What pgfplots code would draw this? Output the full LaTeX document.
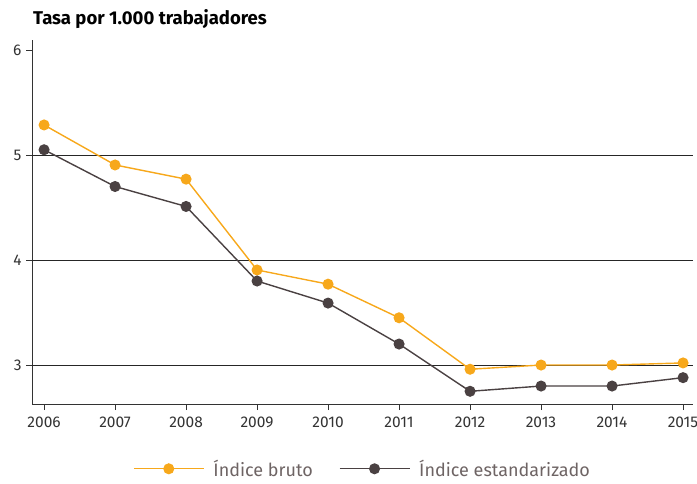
\documentclass[border=0pt]{standalone}
\usepackage{pgfplots}
\pgfplotsset{compat=1.18}
\usepackage{fontspec}
\setmainfont{Fira Sans}
\definecolor{cOr}{HTML}{F7A81B}
\definecolor{cDk}{HTML}{4A4142}
\definecolor{cTx}{HTML}{333333}
\definecolor{cLg}{HTML}{6E6464}
\begin{document}
\begin{tikzpicture}[x=1pt,y=1pt]
\path[use as bounding box] (0,0) rectangle (697,483);
\node[anchor=base west,font=\bfseries\fontsize{18.5}{20}\selectfont,text=black,inner sep=0] at (33,458) {Tasa por 1.000 trabajadores};
\begin{axis}[
  at={(32pt,79pt)}, anchor=south west,
  scale only axis, width=661pt, height=364pt,
  xmin=2005.83, xmax=2015.14, ymin=2.629, ymax=6.095,
  axis lines*=left,
  axis line style={draw=cTx, line width=0.8pt},
  xtick={2006,...,2015}, ytick={3,4,5,6},
  x tick label style={/pgf/number format/1000 sep={}, yshift=-3pt},
  y tick label style={xshift=-1pt},
  /pgf/number format/assume math mode=true,
  tick label style={font=\fontsize{15.5}{17}\selectfont, text=cTx},
  tick style={draw=cTx, line width=0.8pt},
  tick align=outside, major tick length=6pt,
  extra y ticks={3,4,5}, extra y tick labels={},
  extra tick style={grid=major, major tick length=0pt},
  grid style={draw=black!85, line width=0.7pt},
  legend columns=2,
  legend style={at={(0.5,-0.178)}, anchor=center, draw=none, fill=none,
    font=\fontsize{18}{20}\selectfont, text=cLg,
    /tikz/every even column/.append style={column sep=24pt}},
  legend image code/.code={
    \draw[mark repeat=2,mark phase=2] plot coordinates {(0pt,0pt)(35pt,0pt)(70pt,0pt)};
    \path (77pt,0pt);
  },
]
\addplot[cOr, line width=1.4pt, mark=*, mark size=4.8pt, mark options={fill=cOr, draw=cOr}] coordinates {
(2006,5.286)(2007,4.905)(2008,4.77)(2009,3.905)(2010,3.77)(2011,3.45)(2012,2.96)(2013,3.00)(2014,3.00)(2015,3.02)};
\addlegendentry{Índice bruto}
\addplot[cDk, line width=1.4pt, mark=*, mark size=4.8pt, mark options={fill=cDk, draw=cDk}] coordinates {
(2006,5.05)(2007,4.70)(2008,4.51)(2009,3.80)(2010,3.59)(2011,3.20)(2012,2.75)(2013,2.80)(2014,2.80)(2015,2.88)};
\addlegendentry{Índice estandarizado}
\end{axis}
\end{tikzpicture}
\end{document}
